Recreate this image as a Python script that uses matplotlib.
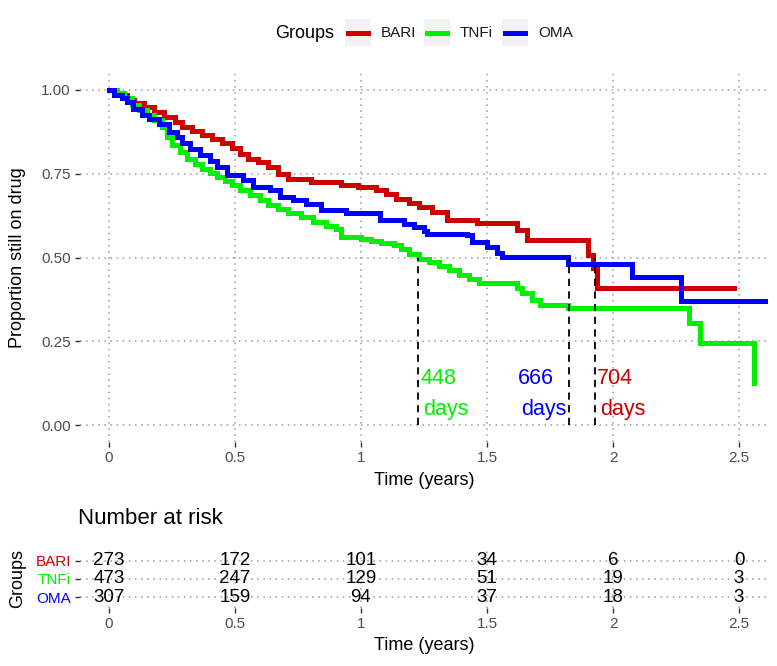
import numpy as np
import matplotlib
matplotlib.use('Agg')
import matplotlib.pyplot as plt
from matplotlib.patches import Rectangle
from matplotlib.lines import Line2D

plt.rcParams['font.family'] = ['Liberation Sans', 'DejaVu Sans']

# ==== data ====
groups = ['BARI', 'TNFi', 'OMA']
colours = {'BARI': '#CC0000', 'TNFi': '#00F000', 'OMA': '#0000FF'}

# Kaplan-Meier step points (time in years, proportion still on drug)
bari_t = [0, 0.03, 0.07, 0.10, 0.14, 0.18, 0.22, 0.26, 0.29, 0.33, 0.37, 0.41,
          0.45, 0.49, 0.52, 0.55, 0.59, 0.63, 0.67, 0.71, 0.80, 0.92, 0.99,
          1.06, 1.10, 1.14, 1.19, 1.23, 1.28, 1.34, 1.46, 1.62, 1.66, 1.90,
          1.92, 1.935, 2.48]
bari_s = [1.0, 0.985, 0.97, 0.96, 0.95, 0.935, 0.92, 0.905, 0.89, 0.877, 0.865,
          0.853, 0.84, 0.825, 0.81, 0.795, 0.785, 0.77, 0.748, 0.735, 0.725,
          0.716, 0.71, 0.70, 0.69, 0.675, 0.662, 0.65, 0.635, 0.612, 0.602,
          0.582, 0.552, 0.507, 0.47, 0.408, 0.408]

tnfi_t = [0, 0.03, 0.06, 0.09, 0.12, 0.15, 0.18, 0.21, 0.23, 0.25, 0.28, 0.31,
          0.34, 0.37, 0.40, 0.43, 0.46, 0.49, 0.52, 0.56, 0.60, 0.63, 0.67,
          0.71, 0.76, 0.81, 0.86, 0.90, 0.92, 1.0, 1.04, 1.08, 1.13, 1.16,
          1.19, 1.23, 1.27, 1.31, 1.35, 1.39, 1.43, 1.47, 1.62, 1.64, 1.68,
          1.71, 1.82, 2.30, 2.345, 2.56]
tnfi_s = [1.0, 0.99, 0.975, 0.955, 0.94, 0.925, 0.91, 0.89, 0.86, 0.835, 0.815,
          0.795, 0.78, 0.765, 0.752, 0.74, 0.728, 0.715, 0.70, 0.686, 0.672,
          0.657, 0.645, 0.633, 0.62, 0.606, 0.595, 0.585, 0.56, 0.556, 0.55,
          0.543, 0.537, 0.525, 0.51, 0.497, 0.487, 0.475, 0.463, 0.448, 0.435,
          0.424, 0.41, 0.394, 0.373, 0.358, 0.349, 0.305, 0.245, 0.125]

oma_t = [0, 0.02, 0.05, 0.07, 0.095, 0.13, 0.16, 0.20, 0.24, 0.27, 0.29, 0.32,
         0.36, 0.40, 0.43, 0.47, 0.53, 0.57, 0.64, 0.68, 0.73, 0.78, 0.84,
         0.94, 1.075, 1.17, 1.21, 1.25, 1.26, 1.42, 1.44, 1.50, 1.54, 1.56,
         1.82, 2.075, 2.27, 2.70]
oma_s = [1.0, 0.985, 0.975, 0.965, 0.943, 0.925, 0.913, 0.898, 0.875, 0.86,
         0.84, 0.823, 0.806, 0.788, 0.77, 0.746, 0.73, 0.71, 0.70, 0.68, 0.67,
         0.66, 0.642, 0.633, 0.612, 0.60, 0.59, 0.58, 0.57, 0.567, 0.546,
         0.531, 0.513, 0.502, 0.48, 0.442, 0.37, 0.37]

curves = {'BARI': (bari_t, bari_s), 'TNFi': (tnfi_t, tnfi_s), 'OMA': (oma_t, oma_s)}

# median time on drug (days)
median_days = {'TNFi': 448, 'OMA': 666, 'BARI': 704}

# number at risk table
risk_times = [0, 0.5, 1, 1.5, 2, 2.5]
risk_bari = [273, 172, 101, 34, 6, 0]
risk_tnfi = [473, 247, 129, 51, 19, 3]
risk_oma = [307, 159, 94, 37, 18, 3]
risk = {'BARI': risk_bari, 'TNFi': risk_tnfi, 'OMA': risk_oma}

# ==== figure ====
W, H = 777, 666
fig = plt.figure(figsize=(W / 100, H / 100), dpi=100)
ax = fig.add_axes([80 / W, 1 - 442 / H, 688 / W, 369 / H])
ax2 = fig.add_axes([80 / W, 1 - 608 / H, 688 / W, 60 / H])

xlim = (-0.115, 2.615)
grid_kw = dict(color='#9A9A9A', linestyle=(0, (1, 3)), linewidth=1.1)
tick_kw = dict(length=3.5, width=1, color='#333333', labelcolor='#4D4D4D',
               labelsize=11, pad=3)

for a in (ax, ax2):
    for sp in a.spines.values():
        sp.set_visible(False)
    a.set_xlim(*xlim)
    a.set_xticks(risk_times)
    a.set_xticklabels(['0', '0.5', '1', '1.5', '2', '2.5'])
    a.grid(True, **grid_kw)
    a.set_axisbelow(True)
    a.tick_params(**tick_kw)

# survival curves
for g in groups:
    t, s = curves[g]
    ax.step(t, s, where='post', color=colours[g], lw=3.6, solid_joinstyle='miter')

ax.set_ylim(-0.05, 1.05)
ax.set_yticks([0, 0.25, 0.5, 0.75, 1.0])
ax.set_yticklabels(['0.00', '0.25', '0.50', '0.75', '1.00'])
ax.set_xlabel('Time (years)', fontsize=13)
ax.set_ylabel('Proportion still on drug', fontsize=13)
ax.xaxis.set_label_coords(0.5, -0.082)
ax.yaxis.set_label_coords(-0.079, 0.5)

# median lines and labels
offsets = {'TNFi': 0.008, 'OMA': -0.2, 'BARI': 0.01}
for g, d in median_days.items():
    xm = d / 365.25
    ax.plot([xm, xm], [0, 0.5], color='black', ls=(0, (4, 3)), lw=1.3)
    ax.text(xm + offsets[g], 0.122, str(d), color=colours[g], fontsize=15.5,
            ha='left', va='baseline')
    ax.text(xm + offsets[g] + 0.012, 0.030, 'days', color=colours[g],
            fontsize=15.5, ha='left', va='baseline')

# risk table
rows = {'BARI': 3, 'TNFi': 2, 'OMA': 1}
for g in groups:
    for x, n in zip(risk_times, risk[g]):
        ax2.text(x, rows[g], str(n), ha='center', va='center', fontsize=13.5,
                 color='black')
ax2.set_ylim(0.39, 3.72)
ax2.set_yticks([rows[g] for g in groups])
ax2.set_yticklabels(groups)
for lbl, g in zip(ax2.get_yticklabels(), groups):
    lbl.set_color(colours[g])
ax2.set_xlabel('Time (years)', fontsize=13)
ax2.set_ylabel('Groups', fontsize=13)
ax2.xaxis.set_label_coords(0.5, -0.49)
ax2.yaxis.set_label_coords(-0.079, 0.5)
fig.text(78 / W, 1 - 519 / H, 'Number at risk', fontsize=16, va='center')

# legend at top
ly = 1 - 33 / H
fig.text(275 / W, ly, 'Groups', fontsize=13, va='center')
key_x = {'BARI': 345, 'TNFi': 424, 'OMA': 502}
for g in groups:
    x0 = key_x[g]
    fig.patches.append(Rectangle((x0 / W, 1 - 46 / H), 26 / W, 27 / H,
                                 transform=fig.transFigure, facecolor='#F2F2F2',
                                 edgecolor='none'))
    fig.lines.append(Line2D([(x0 + 3) / W, (x0 + 23) / W], [ly, ly],
                            transform=fig.transFigure, color=colours[g], lw=3.6))
    fig.text((x0 + 36) / W, ly, g, fontsize=11, va='center', color='#1A1A1A')

fig.savefig('out.png', dpi=100, facecolor='white')
